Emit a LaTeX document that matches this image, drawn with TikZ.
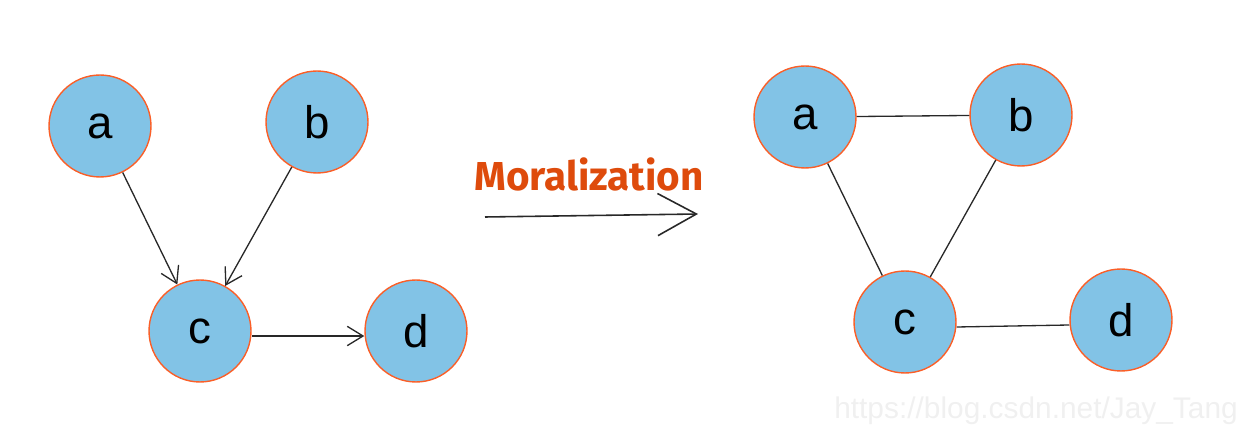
\documentclass[tikz,border=0pt]{standalone}
\usepackage{fontspec}
\setmainfont{Liberation Sans}
\newfontfamily\titlefont{Fira Sans}
\usetikzlibrary{arrows.meta, positioning}
\definecolor{nodeblue}{RGB}{130,195,230}
\definecolor{rimorange}{RGB}{250,95,40}
\definecolor{moralred}{RGB}{222,75,12}
\definecolor{edgegray}{RGB}{40,40,40}
\tikzset{
  vertex/.style={circle, fill=nodeblue, draw=rimorange, line width=0.8pt, minimum size=2.04cm, inner sep=0pt, font=\fontsize{26}{28}\selectfont},
  edge/.style={edgegray, line width=0.75pt},
  arc/.style={edge, -{Straight Barb[length=9pt, width=11pt]}}
}

\begin{document}
\begin{tikzpicture}[x=0.02cm, y=-0.02cm]
        \useasboundingbox (0,0) rectangle (1251,438);

        % Directed graph
        \node[vertex] (a1) at (100,126) {a};
        \node[vertex] (b1) at (317,122) {b};
        \node[vertex] (c1) at (200,331) {c};
        \node[vertex] (d1) at (416,331) {d};
        \draw[arc] (a1) -- (c1);
        \draw[arc] (b1) -- (c1);
        \draw[arc] ([yshift=-0.1cm]c1.east) -- ([yshift=-0.1cm]d1.west);

        % Transformation
        \node[moralred, font=\titlefont\bfseries\fontsize{23}{25}\selectfont] (title) at (589,174) {Moralization};
        \coordinate (from) at (485,217);
        \coordinate (to) at (698,214);
        \draw[edge, line width=0.9pt, -{Straight Barb[length=22pt, width=24pt]}] (from) -- (to);

        % Moral graph
        \node[vertex] (a2) at (805,117) {a};
        \node[vertex] (b2) at (1021,115) {b};
        \node[vertex] (c2) at (905,322) {c};
        \node[vertex] (d2) at (1121,320) {d};
        \draw[edge] (a2) -- (b2);
        \draw[edge] (a2) -- (c2);
        \draw[edge] (b2) -- (c2);
        \draw[edge] ([yshift=-0.1cm]c2.east) -- ([yshift=-0.1cm]d2.west);

        % Watermark
        \node[black!6, font=\fontsize{17}{19}\selectfont] (mark) at (1036,411) {https://blog.csdn.net/Jay\_Tang};
    \end{tikzpicture}
\end{document}
